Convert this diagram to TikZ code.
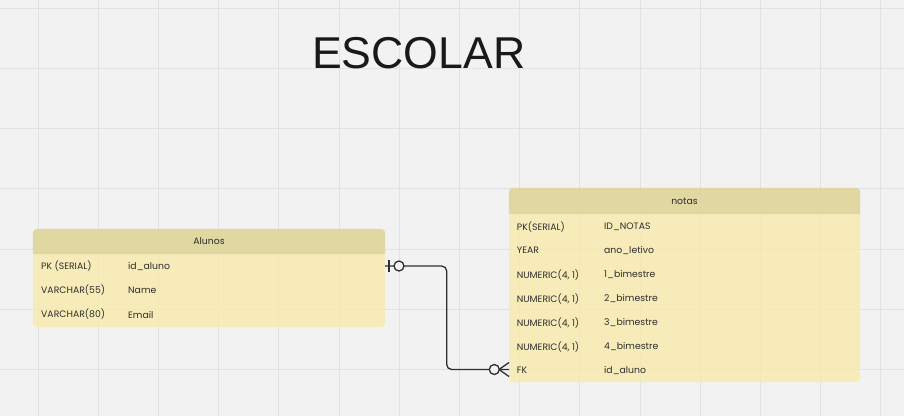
\documentclass[tikz,border=0pt]{standalone}
\usepackage{fontspec}
\setmainfont{Liberation Sans}
\newfontfamily\fieldfont{Poppins}
\usetikzlibrary{positioning,calc}
\definecolor{bgcol}{HTML}{F2F2F2}
\definecolor{gridcol}{HTML}{E2E2E2}
\definecolor{headcol}{HTML}{DBD29C}
\definecolor{bodycol}{HTML}{F7EAAB}
\definecolor{inkcol}{HTML}{2E2E2E}
\tikzset{
	gridline/.style={draw=gridcol,line width=1pt},
	tablebody/.style={rectangle,draw=none,fill=bodycol,fill opacity=.8,rounded corners=4pt,inner sep=0},
	tablehead/.style={fill=headcol,fill opacity=.8},
	tabletitle/.style={inner sep=0,font=\fieldfont\fontsize{9.3}{11}\selectfont,text=inkcol},
	field/.style={anchor=west,inner sep=0,font=\fieldfont\fontsize{9.3}{11}\selectfont,text=inkcol},
	headline/.style={inner sep=0,font=\fontsize{44.6}{50}\selectfont,text=black!90},
	relation/.style={draw=inkcol,line width=1.3pt},
	ringend/.style={draw=inkcol,line width=1.3pt,fill=bgcol}
}
\begin{document}
\begin{tikzpicture}[x=1pt,y=-1pt]
		\useasboundingbox (0,0) rectangle (904,416);
		\fill[bgcol] (0,0) rectangle (904,416);
		\foreach \i in {0,...,14}
			\draw[gridline] ({38+60.2*\i},0) -- ({38+60.2*\i},416);
		\foreach \j in {0,...,6}
			\draw[gridline] (0,{8.3+60.2*\j}) -- (904,{8.3+60.2*\j});

		\node[headline] (escolar) at (418.8,53.3) {ESCOLAR};

		\node[tablebody, minimum width=352pt, minimum height=98pt] (alunos) at (209,278) {};
		\fill[tablehead] (33,254) [rounded corners=4pt] -- (alunos.north west) -- (alunos.north east) [sharp corners] -- (385,254) -- cycle;
		\node[tabletitle] (alunostitle) at (209,241.5) {Alunos};
		\node[field] (alunos1) at (41,266.5) {PK (SERIAL)};
		\node[field] (alunos2) at (41,290.5) {VARCHAR(55)};
		\node[field] (alunos3) at (41,314.5) {VARCHAR(80)};
		\node[field] (alunosname1) at (128,266.5) {id\_aluno};
		\node[field] (alunosname2) at (128,290.5) {Name};
		\node[field] (alunosname3) at (128,314.5) {Email};

		\node[tablebody, minimum width=351pt, minimum height=194pt] (notas) at (684.5,285) {};
		\fill[tablehead] (509,214) [rounded corners=4pt] -- (notas.north west) -- (notas.north east) [sharp corners] -- (860,214) -- cycle;
		\node[tabletitle] (notastitle) at (684.5,201) {notas};
		\node[field] (notas1) at (516.7,226.7) {PK(SERIAL)};
		\node[field] (notas2) at (516.7,250.7) {YEAR};
		\node[field] (notas3) at (516.7,274.7) {NUMERIC(4, 1)};
		\node[field] (notas4) at (516.7,298.7) {NUMERIC(4, 1)};
		\node[field] (notas5) at (516.7,322.7) {NUMERIC(4, 1)};
		\node[field] (notas6) at (516.7,346.7) {NUMERIC(4, 1)};
		\node[field] (notas7) at (516.7,370.7) {FK};
		\node[field] (notasname1) at (604,226.7) {ID\_NOTAS};
		\node[field] (notasname2) at (604,250.7) {ano\_letivo};
		\node[field] (notasname3) at (604,274.7) {1\_bimestre};
		\node[field] (notasname4) at (604,298.7) {2\_bimestre};
		\node[field] (notasname5) at (604,322.7) {3\_bimestre};
		\node[field] (notasname6) at (604,346.7) {4\_bimestre};
		\node[field] (notasname7) at (604,370.7) {id\_aluno};

		\coordinate (bend) at (446.7,0);
		\coordinate (from) at (385,266);
		\coordinate (to) at (509,369.5);
		\draw[relation, rounded corners=5pt] (from) -- (bend |- from) -- (bend |- to) -- (to);
		\draw[relation] ([xshift=4pt]from) ++(0,-6) -- ++(0,12);
		\draw[ringend] ([xshift=14pt]from) circle (5pt);
		\draw[relation] ([xshift=-10pt]to) -- ([yshift=-7pt]to);
		\draw[relation] ([xshift=-10pt]to) -- ([yshift=7pt]to);
		\draw[ringend] ([xshift=-14.7pt]to) circle (5pt);
\end{tikzpicture}
\end{document}
